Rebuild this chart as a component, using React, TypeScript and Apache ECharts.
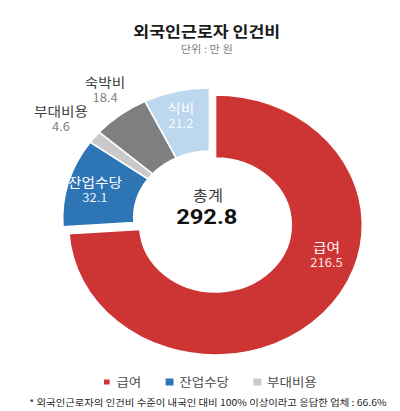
import React, { useEffect, useRef } from "react";
import * as echarts from "echarts";

// chart data
const CATEGORIES = ["급여", "잔업수당", "부대비용", "숙박비", "식비"];
const VALUES = [216.5, 32.1, 4.6, 18.4, 21.2];
const COLORS = ["#CD3434", "#2E75B6", "#C9C9C9", "#7F7F7F", "#BDD7EE"];
const LEGEND_ITEMS = ["급여", "잔업수당", "부대비용"];

const TITLE = "외국인근로자 인건비";
const UNIT = "단위 : 만 원";
const TOTAL_NAME = "총계";
const FOOTNOTE = "* 외국인근로자의 인건비 수준이 내국인 대비 100% 이상이라고 응답한 업체 : 66.6%";

// the reference is stretched horizontally, so draw narrow and scale the div
const STRETCH = 1.13;
const FONT = "'Noto Sans CJK KR', 'Noto Sans', sans-serif";

// label anchors (in unstretched px)
const LABEL_POS: [number, number][] = [
  [289, 254],
  [84, 189],
  [54, 118],
  [93, 89],
  [160, 115],
];
const INSIDE = [true, true, false, false, true];

const RED_CENTER = [190.7, 225];
const REST_CENTER = [185.4, 218];

export default function App() {
  const ref = useRef<HTMLDivElement>(null);

  useEffect(() => {
    if (!ref.current) return;
    const chart = echarts.init(ref.current, undefined, { renderer: "svg" });

    const total = VALUES.reduce((s, v) => s + v, 0).toFixed(1);

    const makeSeries = (center: number[], keep: (i: number) => boolean) => ({
      type: "pie",
      center,
      radius: [67, 130],
      startAngle: 90,
      clockwise: true,
      silent: true,
      avoidLabelOverlap: false,
      labelLine: { show: false },
      emphasis: { disabled: true },
      label: {
        show: true,
        position: "inside",
        align: "center",
        formatter: (p: any) => `{n|${p.name}}\n{v|${p.value}}`,
      },
      labelLayout: (p: any) =>
        keep(p.dataIndex)
          ? {
              x: LABEL_POS[p.dataIndex][0],
              y: LABEL_POS[p.dataIndex][1],
              align: "center",
              verticalAlign: "middle",
            }
          : {},
      data: CATEGORIES.map((name, i) => ({
        name,
        value: VALUES[i],
        itemStyle: keep(i)
          ? { color: COLORS[i], borderColor: "#ffffff", borderWidth: 1.5 }
          : { color: "rgba(0,0,0,0)", borderWidth: 0 },
        label: keep(i)
          ? {
              show: true,
              rich: {
                n: {
                  fontSize: 13,
                  lineHeight: 17,
                  fontFamily: FONT,
                  color: INSIDE[i] ? "#ffffff" : "#404040",
                  align: "center",
                },
                v: {
                  fontSize: 11.5,
                  lineHeight: 16,
                  fontFamily: FONT,
                  color: INSIDE[i] ? "rgba(255,255,255,0.92)" : "#7F7F7F",
                  align: "center",
                },
              },
            }
          : { show: false },
      })),
    });

    chart.setOption({
      animation: false,
      backgroundColor: "#ffffff",
      legend: {
        data: LEGEND_ITEMS.map((name) => ({
          name,
          icon: "rect",
          itemStyle: { color: COLORS[CATEGORIES.indexOf(name)] },
        })),
        left: 90,
        top: 376,
        padding: 0,
        itemWidth: 7,
        itemHeight: 7,
        itemGap: 21.5,
        selectedMode: false,
        textStyle: { fontSize: 12, color: "#4d4d4d", fontFamily: FONT },
      },
      graphic: [
        {
          type: "text",
          x: 183,
          y: 30,
          style: {
            text: TITLE,
            align: "center",
            verticalAlign: "middle",
            fontSize: 15.3,
            fontWeight: "bold",
            fontFamily: FONT,
            fill: "#1a1a1a",
          },
        },
        {
          type: "text",
          x: 183,
          y: 49,
          style: {
            text: UNIT,
            align: "center",
            verticalAlign: "middle",
            fontSize: 10,
            fontFamily: FONT,
            fill: "#7F7F7F",
          },
        },
        {
          type: "text",
          x: 184,
          y: 194,
          style: {
            text: TOTAL_NAME,
            align: "center",
            verticalAlign: "middle",
            fontSize: 14.5,
            fontFamily: FONT,
            fill: "#404040",
          },
        },
        {
          type: "text",
          x: 183,
          y: 217,
          style: {
            text: total,
            align: "center",
            verticalAlign: "middle",
            fontSize: 21,
            fontWeight: "bold",
            fontFamily: "Roboto, 'Noto Sans', sans-serif",
            fill: "#111111",
          },
        },
        {
          type: "text",
          x: 184,
          y: 402,
          style: {
            text: FOOTNOTE,
            align: "center",
            verticalAlign: "middle",
            fontSize: 9.2,
            fontFamily: FONT,
            fill: "#262626",
          },
        },
      ],
      series: [
        makeSeries(RED_CENTER, (i) => i === 0),
        makeSeries(REST_CENTER, (i) => i !== 0),
      ],
    } as any);

    return () => chart.dispose();
  }, []);

  return (
    <div
      style={{
        position: "fixed",
        left: 0,
        top: 0,
        width: 400,
        height: 411,
        overflow: "hidden",
        background: "#ffffff",
      }}
    >
      <div
        ref={ref}
        style={{
          width: 400 / STRETCH,
          height: 411,
          transform: `scaleX(${STRETCH})`,
          transformOrigin: "0 0",
        }}
      />
    </div>
  );
}
